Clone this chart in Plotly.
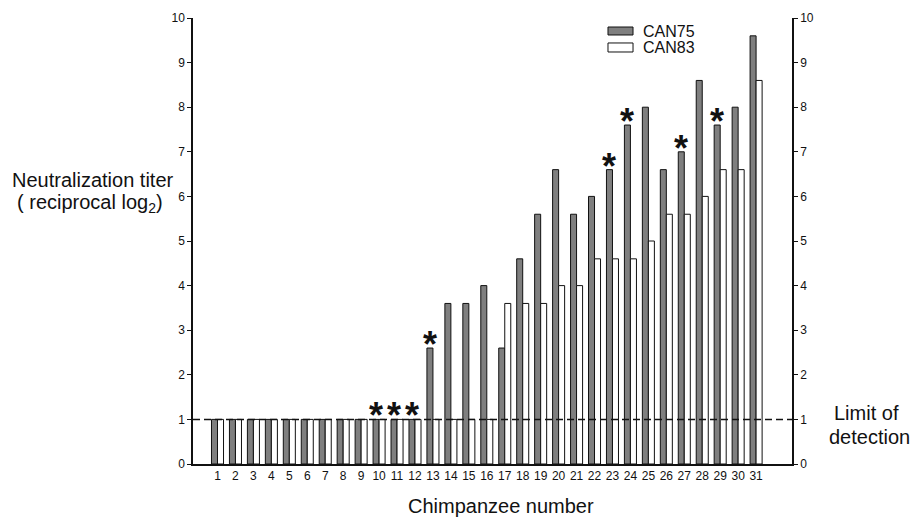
import plotly.graph_objects as go

chimps = list(range(1, 32))
can75 = [1, 1, 1, 1, 1, 1, 1, 1, 1, 1, 1, 1, 2.6, 3.6, 3.6, 4.0, 2.6, 4.6, 5.6, 6.6,
         5.6, 6.0, 6.6, 7.6, 8.0, 6.6, 7.0, 8.6, 7.6, 8.0, 9.6]
can83 = [1, 1, 1, 1, 1, 1, 1, 1, 1, 1, 1, 1, 1, 1, 1, 1, 3.6, 3.6, 3.6, 4.0,
         4.0, 4.6, 4.6, 4.6, 5.0, 5.6, 5.6, 6.0, 6.6, 6.6, 8.6]
star_chimps = [10, 11, 12, 13, 23, 24, 27, 29]
limit_of_detection = 1
y_ticks = list(range(0, 11))
series_names = ["CAN75", "CAN83"]
series_colors = ["#7f7f7f", "white"]

FONT = "Arial, Liberation Sans, sans-serif"
INK = "#111"

fig = go.Figure()
for name, vals, col in zip(series_names, [can75, can83], series_colors):
    fig.add_trace(go.Bar(x=chimps, y=vals, name=name,
                         marker=dict(color=col, line=dict(color=INK, width=1))))
# invisible trace to drive right axis
fig.add_trace(go.Scatter(x=[chimps[0]], y=[0], yaxis="y2", mode="markers",
                         marker=dict(opacity=0), showlegend=False, hoverinfo="skip"))

# limit of detection dashed line
fig.add_shape(type="line", xref="paper", x0=0, x1=1, yref="y",
              y0=limit_of_detection, y1=limit_of_detection,
              line=dict(color=INK, width=1.5, dash="7px,4px"), layer="above")

idx = {c: i for i, c in enumerate(chimps)}
for c in star_chimps:
    fig.add_annotation(x=c, y=can75[idx[c]], text="<b>*</b>", showarrow=False,
                       xshift=-3, yanchor="bottom", yshift=-19,
                       font=dict(size=36, color=INK, family=FONT))

# manual legend
legend_rows = [(0.9798, 0.9619), (0.944, 0.9238)]
for name, col, (y1, y0) in zip(series_names, series_colors, legend_rows):
    fig.add_shape(type="rect", xref="paper", yref="paper", x0=0.6928, x1=0.7346,
                  y0=y0, y1=y1, fillcolor=col, line=dict(color=INK, width=1))
    fig.add_annotation(xref="paper", yref="paper", x=0.748, y=(y0 + y1) / 2,
                       text=name, showarrow=False, xanchor="left", yanchor="middle",
                       font=dict(size=16, color=INK, family=FONT))

side_texts = [
    ("Neutralization titer", -0.167, 0.637),
    ("( reciprocal log<sub>2</sub>)", -0.172, 0.585),
    ("Limit of", 1.125, 0.114),
    ("detection", 1.130, 0.060),
    ("Chimpanzee number", 0.514, -0.094),
]
for txt, px, py in side_texts:
    fig.add_annotation(xref="paper", yref="paper", x=px, y=py, text=txt,
                       showarrow=False, xanchor="center", yanchor="middle",
                       font=dict(size=20, color=INK, family=FONT))

fig.update_layout(
    width=912, height=517,
    margin=dict(l=193, r=120, t=18, b=53, autoexpand=False),
    paper_bgcolor="white", plot_bgcolor="white",
    barmode="group", bargap=0.33, bargroupgap=0,
    font=dict(family=FONT, color=INK, size=11),
    showlegend=False,
    xaxis=dict(range=[-0.365, 33.0], tickmode="array", tickvals=chimps,
               ticktext=[str(c) for c in chimps], showline=True, linecolor=INK,
               linewidth=1.5, ticks="", showgrid=False, zeroline=False,
               automargin=False, tickfont=dict(size=12, color=INK)),
    yaxis=dict(range=[0, 10], tickvals=y_ticks, showline=True, linecolor=INK,
               linewidth=1.5, ticks="outside", ticklen=4, tickcolor=INK,
               automargin=False,
               showgrid=False, zeroline=False, tickfont=dict(size=12, color=INK)),
    yaxis2=dict(range=[0, 10], tickvals=y_ticks, overlaying="y", side="right",
                showline=True, linecolor=INK, linewidth=1.5, ticks="outside",
                ticklen=4, tickcolor=INK, showgrid=False, zeroline=False,
                automargin=False, tickfont=dict(size=12, color=INK)),
)

fig.write_html("out.html", config={"displayModeBar": False},
               post_script="document.body.style.margin='0';")
